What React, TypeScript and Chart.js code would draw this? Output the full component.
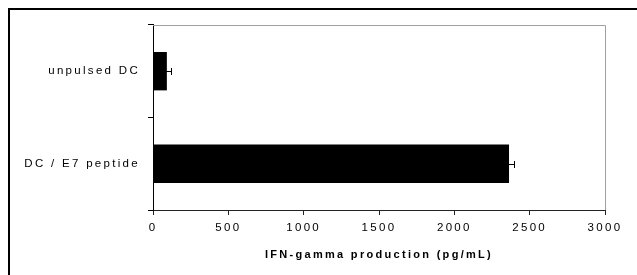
import React, { useEffect, useRef } from "react";
import { Chart, registerables } from "chart.js";

Chart.register(...registerables);

const categories = ["unpulsed DC", "DC / E7 peptide"];
const values = [92, 2363];
const errors = [26, 30];
const xTicks = [0, 500, 1000, 1500, 2000, 2500, 3000];
const xTitle = "IFN-gamma production (pg/mL)";

const FONT = "Arial, 'Liberation Sans', sans-serif";

const spacingPlugin = {
  id: "spacing",
  beforeLayout(chart: any) {
    chart.ctx.letterSpacing = "2.3px";
  },
  beforeDraw(chart: any) {
    chart.ctx.letterSpacing = "2.3px";
  },
};

const framePlugin = {
  id: "frame",
  afterDraw(chart: any) {
    const { ctx, chartArea } = chart;
    ctx.save();
    ctx.strokeStyle = "#a0a0a0";
    ctx.lineWidth = 1;
    ctx.beginPath();
    const t = Math.round(chartArea.top) + 0.5;
    const r = Math.round(chartArea.right) + 0.5;
    ctx.moveTo(Math.round(chartArea.left), t);
    ctx.lineTo(r, t);
    ctx.lineTo(r, Math.round(chartArea.bottom));
    ctx.stroke();
    ctx.restore();
  },
};

const errorBarPlugin = {
  id: "errorBars",
  afterDatasetsDraw(chart: any) {
    const { ctx } = chart;
    const xs = chart.scales.x;
    const meta = chart.getDatasetMeta(0);
    ctx.save();
    ctx.strokeStyle = "#000";
    ctx.lineWidth = 1;
    meta.data.forEach((bar: any, i: number) => {
      const y = Math.round(bar.y) + 0.5;
      const x1 = xs.getPixelForValue(values[i] - errors[i]);
      const x2 = Math.round(xs.getPixelForValue(values[i] + errors[i])) + 0.5;
      ctx.beginPath();
      ctx.moveTo(x1, y);
      ctx.lineTo(x2, y);
      ctx.moveTo(x2, y - 3.5);
      ctx.lineTo(x2, y + 3.5);
      ctx.stroke();
    });
    ctx.restore();
  },
};

export default function App() {
  const ref = useRef<HTMLCanvasElement | null>(null);
  useEffect(() => {
    if (!ref.current) return;
    const chart = new Chart(ref.current, {
      type: "bar",
      data: {
        labels: categories,
        datasets: [
          {
            data: values,
            backgroundColor: "#000",
            borderWidth: 0,
            categoryPercentage: 1,
            barPercentage: 0.415,
          },
        ],
      },
      options: {
        indexAxis: "y",
        animation: false,
        responsive: false,
        devicePixelRatio: 1,
        layout: { padding: { left: 0, top: 12, right: 32, bottom: 0 } },
        plugins: {
          legend: { display: false },
          tooltip: { enabled: false },
        },
        scales: {
          x: {
            type: "linear",
            min: 0,
            max: 3000,
            afterBuildTicks: (scale: any) => {
              scale.ticks = xTicks.map((v) => ({ value: v }));
            },
            afterFit: (scale: any) => {
              scale.height = 65;
            },
            border: { display: true, color: "#222", width: 1 },
            grid: {
              display: true,
              drawOnChartArea: false,
              drawTicks: true,
              tickLength: 5,
              color: "#222",
            },
            ticks: {
              color: "#000",
              padding: 6,
              maxRotation: 0,
              autoSkip: false,
              font: { family: FONT, size: 11.5 },
              callback: (v: any) => String(v),
            },
            title: {
              display: true,
              text: xTitle,
              color: "#000",
              padding: { top: 0, bottom: 13 },
              font: { family: FONT, size: 11, weight: "bold" },
            },
          },
          y: {
            type: "category",
            offset: true,
            afterFit: (scale: any) => {
              scale.width = 143;
            },
            border: { display: true, color: "#000", width: 1 },
            grid: {
              display: true,
              offset: true,
              drawOnChartArea: false,
              drawTicks: true,
              tickLength: 5,
              color: "#000",
            },
            ticks: {
              color: "#000",
              padding: 8,
              font: { family: FONT, size: 11.5 },
            },
          },
        },
      },
      plugins: [spacingPlugin, framePlugin, errorBarPlugin],
    } as any);
    return () => chart.destroy();
  }, []);

  return (
    <div
      style={{
        position: "fixed",
        left: 8,
        top: 8,
        width: 640,
        height: 280,
        borderTop: "2px solid #000",
        borderLeft: "2px solid #000",
        background: "#fff",
      }}
    >
      <canvas
        ref={ref}
        width={627}
        height={265}
        style={{ display: "block", width: 627, height: 265 }}
      />
    </div>
  );
}
